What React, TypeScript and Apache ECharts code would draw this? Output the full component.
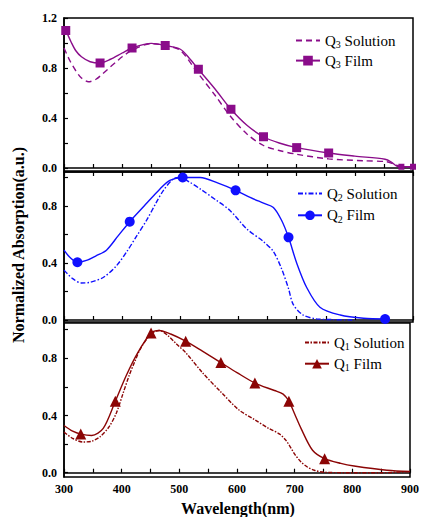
import React, { useEffect, useRef } from "react";
import * as echarts from "echarts";

// ---------- data ----------
const xTickValues = [300, 350, 400, 450, 500, 550, 600, 650, 700, 750, 800, 850, 900];
const xLabelValues = [300, 400, 500, 600, 700, 800, 900];
const yLabelsTop = [0, 0.4, 0.8, 1.2];
const yTicksTop = [0, 0.2, 0.4, 0.6, 0.8, 1.0, 1.2];
const yLabelsLow = [0, 0.4, 0.8];
const yTicksLow = [0, 0.2, 0.4, 0.6, 0.8, 1.0];

// Q3
const q3SolWl = [300, 310, 320, 330, 342, 355, 368, 380, 390, 400, 420, 450, 475, 500, 530, 560, 585, 615, 643, 670, 700, 755, 815, 855, 868, 880, 900];
const q3SolAbs = [0.96, 0.86, 0.78, 0.72, 0.69, 0.71, 0.76, 0.81, 0.85, 0.89, 0.95, 0.995, 0.98, 0.94, 0.76, 0.58, 0.42, 0.27, 0.18, 0.14, 0.11, 0.073, 0.058, 0.05, 0.03, 0.012, 0.01];
const q3FilmWl = [300, 303, 312, 320, 330, 345, 362, 380, 400, 417, 450, 474, 500, 515, 531, 560, 587, 615, 643, 670, 700, 755, 800, 852, 862, 872, 880, 900];
const q3FilmAbs = [1.11, 1.1, 1.01, 0.94, 0.89, 0.85, 0.84, 0.87, 0.92, 0.96, 0.997, 0.98, 0.95, 0.88, 0.79, 0.63, 0.47, 0.34, 0.25, 0.2, 0.163, 0.12, 0.095, 0.07, 0.05, 0.016, 0.01, 0.01];
const q3FilmMarks = [303, 362, 417, 474, 531, 587, 643, 700, 755, 880, 900];

// Q2
const q2SolWl = [300, 315, 330, 345, 368, 390, 408, 425, 442, 458, 471, 488, 500, 515, 534, 562, 585, 614, 643, 660, 674, 686, 694, 711, 734, 760, 800];
const q2SolAbs = [0.35, 0.29, 0.26, 0.265, 0.3, 0.38, 0.48, 0.59, 0.7, 0.82, 0.91, 0.99, 1.0, 0.97, 0.92, 0.84, 0.77, 0.64, 0.55, 0.48, 0.36, 0.22, 0.11, 0.035, 0.008, 0.003, 0.0];
const q2FilmWl = [300, 310, 323, 340, 355, 373, 393, 413, 440, 465, 482, 504, 534, 565, 595, 620, 643, 660, 674, 686, 700, 717, 740, 775, 815, 852];
const q2FilmAbs = [0.49, 0.44, 0.405, 0.42, 0.45, 0.49, 0.59, 0.69, 0.81, 0.92, 0.98, 1.0, 1.0, 0.96, 0.91, 0.86, 0.82, 0.79, 0.7, 0.58, 0.4, 0.23, 0.09, 0.035, 0.012, 0.007];
const q2FilmMarks = [323, 413, 504, 595, 686, 852];

// Q1
const q1SolWl = [300, 315, 333, 348, 362, 378, 391, 402, 413, 423, 433, 451, 465, 480, 495, 511, 540, 572, 603, 631, 655, 674, 684, 691, 700, 711, 722, 734, 752, 800, 850, 900];
const q1SolAbs = [0.285, 0.24, 0.215, 0.22, 0.25, 0.32, 0.42, 0.55, 0.68, 0.78, 0.87, 0.97, 0.995, 0.96, 0.9, 0.84, 0.7, 0.565, 0.44, 0.37, 0.31, 0.27, 0.23, 0.19, 0.13, 0.075, 0.04, 0.017, 0.003, 0.0, 0.0, 0.008];
const q1FilmWl = [300, 315, 329, 348, 368, 389, 408, 428, 451, 465, 485, 511, 540, 572, 600, 631, 665, 680, 690, 700, 711, 731, 752, 780, 803, 860, 900];
const q1FilmAbs = [0.33, 0.29, 0.27, 0.26, 0.31, 0.5, 0.68, 0.84, 0.977, 0.995, 0.97, 0.92, 0.85, 0.77, 0.7, 0.627, 0.575, 0.55, 0.5, 0.41, 0.31, 0.157, 0.098, 0.065, 0.047, 0.017, 0.008];
const q1FilmMarks = [329, 389, 451, 511, 572, 631, 690, 752];

// ---------- styles ----------
const SERIF = "Times New Roman, Liberation Serif, serif";
const C3 = "#8a0c8a";
const C2 = "#1010ff";
const C1 = "#8b0505";

const panels = [
  { top: 18, height: 153, min: -0.024, max: 1.2, labels: yLabelsTop, ticks: yTicksTop },
  { top: 172, height: 150, min: -0.014, max: 1.0386, labels: yLabelsLow, ticks: yTicksLow },
  { top: 323, height: 154, min: -0.03, max: 1.047, labels: yLabelsLow, ticks: yTicksLow },
];

function buildData(wl: number[], abs: number[], marks: number[] | null, symbol: string, size: number) {
  return wl.map((x, i) => {
    if (marks && marks.indexOf(x) >= 0) {
      const s = x >= 880 ? 6 : size;
      return { value: [x, abs[i]], symbol, symbolSize: s };
    }
    return { value: [x, abs[i]], symbol: "none" };
  });
}

const legendFormatter = (name: string) =>
  name.replace(/^Q(\d) (.*)$/, "{n|Q}{s|$1}{n| $2}");

const legendRich = {
  n: { fontFamily: SERIF, fontSize: 15, color: "#000", lineHeight: 18 },
  s: { fontFamily: SERIF, fontSize: 10, color: "#000", lineHeight: 10, verticalAlign: "bottom" },
};

export default function App() {
  const ref = useRef<HTMLDivElement>(null);

  useEffect(() => {
    if (!ref.current) return;
    const chart = echarts.init(ref.current, null, { renderer: "svg" });

    const grids = panels.map((p) => ({
      left: 64,
      width: 349,
      top: p.top,
      height: p.height,
      show: true,
      borderColor: "#000",
      borderWidth: 1.5,
      containLabel: false,
    }));

    const xAxes: any[] = panels.map((p, i) => ({
      type: "value",
      gridIndex: i,
      min: 300,
      max: 900,
      axisLine: { show: true, lineStyle: { color: "#000", width: 1.5 } },
      axisTick: { show: true, inside: true, length: 4, customValues: xTickValues, lineStyle: { color: "#000", width: 1.2 } },
      axisLabel: {
        show: i === 2,
        customValues: xLabelValues,
        fontFamily: SERIF,
        fontWeight: "bold",
        fontSize: 12,
        color: "#000",
        margin: 6,
      },
      splitLine: { show: false },
    }));
    xAxes.push({
      type: "value",
      gridIndex: 1,
      position: "top",
      min: 300,
      max: 900,
      axisLine: { show: true, lineStyle: { color: "#000", width: 1.5 } },
      axisTick: { show: true, inside: true, length: 4, customValues: xTickValues, lineStyle: { color: "#000", width: 1.2 } },
      axisLabel: { show: false },
      splitLine: { show: false },
    });

    const yAxes = panels.map((p, i) => ({
      type: "value",
      gridIndex: i,
      min: p.min,
      max: p.max,
      axisLine: { show: true, lineStyle: { color: "#000", width: 1.5 } },
      axisTick: { show: true, inside: true, length: 4, customValues: p.ticks, lineStyle: { color: "#000", width: 1.2 } },
      axisLabel: {
        show: true,
        customValues: p.labels,
        formatter: (v: number) => v.toFixed(1),
        fontFamily: SERIF,
        fontWeight: "bold",
        fontSize: 12,
        color: "#000",
        margin: 7,
      },
      splitLine: { show: false },
    }));

    const solSeries = (name: string, idx: number, wl: number[], abs: number[], color: string, dash: number[]) => ({
      name,
      type: "line",
      xAxisIndex: idx,
      yAxisIndex: idx,
      data: buildData(wl, abs, null, "none", 0),
      symbol: "none",
      smooth: 0.3,
      lineStyle: { color, width: 1.4, type: dash },
      itemStyle: { color },
      z: 2,
    });
    const filmSeries = (name: string, idx: number, wl: number[], abs: number[], marks: number[], color: string, symbol: string, size: number) => ({
      name,
      type: "line",
      xAxisIndex: idx,
      yAxisIndex: idx,
      data: buildData(wl, abs, marks, symbol, size),
      symbol,
      symbolSize: size,
      showAllSymbol: true,
      smooth: 0.3,
      lineStyle: { color, width: 1.4, type: "solid" },
      itemStyle: { color },
      z: 3,
    });

    const legendBase = {
      orient: "vertical",
      itemWidth: 24,
      itemHeight: 12,
      formatter: legendFormatter,
      textStyle: { fontFamily: SERIF, fontSize: 15, color: "#000", rich: legendRich },
      selectedMode: false,
      padding: 0,
    };
    const solItem = (name: string) => ({ name, itemStyle: { opacity: 0 } });

    chart.setOption({
      animation: false,
      textStyle: { fontFamily: SERIF },
      grid: grids,
      xAxis: xAxes,
      yAxis: yAxes,
      legend: [
        { ...legendBase, data: [solItem("Q3 Solution"), "Q3 Film"], left: 295, top: 33, itemGap: 3.6 },
        { ...legendBase, data: [solItem("Q2 Solution"), "Q2 Film"], left: 297, top: 186, itemGap: 5.3 },
        { ...legendBase, data: [solItem("Q1 Solution"), "Q1 Film"], left: 304, top: 335, itemGap: 4.7 },
      ],
      series: [
        solSeries("Q3 Solution", 0, q3SolWl, q3SolAbs, C3, [6, 4]),
        filmSeries("Q3 Film", 0, q3FilmWl, q3FilmAbs, q3FilmMarks, C3, "rect", 9),
        solSeries("Q2 Solution", 1, q2SolWl, q2SolAbs, C2, [5, 2, 1.5, 2]),
        filmSeries("Q2 Film", 1, q2FilmWl, q2FilmAbs, q2FilmMarks, C2, "circle", 10),
        solSeries("Q1 Solution", 2, q1SolWl, q1SolAbs, C1, [4, 1.5, 1.5, 1.5]),
        filmSeries("Q1 Film", 2, q1FilmWl, q1FilmAbs, q1FilmMarks, C1, "triangle", 11),
      ],
      graphic: [
        {
          type: "text",
          x: 18,
          y: 245,
          rotation: Math.PI / 2,
          style: {
            text: "Normalized Absorption(a.u.)",
            fontFamily: SERIF,
            fontSize: 16,
            fontWeight: "bold",
            fill: "#000",
            align: "center",
            verticalAlign: "middle",
          },
        },
        {
          type: "text",
          x: 238,
          y: 508,
          style: {
            text: "Wavelength(nm)",
            fontFamily: SERIF,
            fontSize: 16,
            fontWeight: "bold",
            fill: "#000",
            align: "center",
            verticalAlign: "middle",
          },
        },
      ],
    });

    return () => chart.dispose();
  }, []);

  return (
    <div
      ref={ref}
      style={{ position: "absolute", left: 0, top: 0, width: 422, height: 517 }}
    />
  );
}
